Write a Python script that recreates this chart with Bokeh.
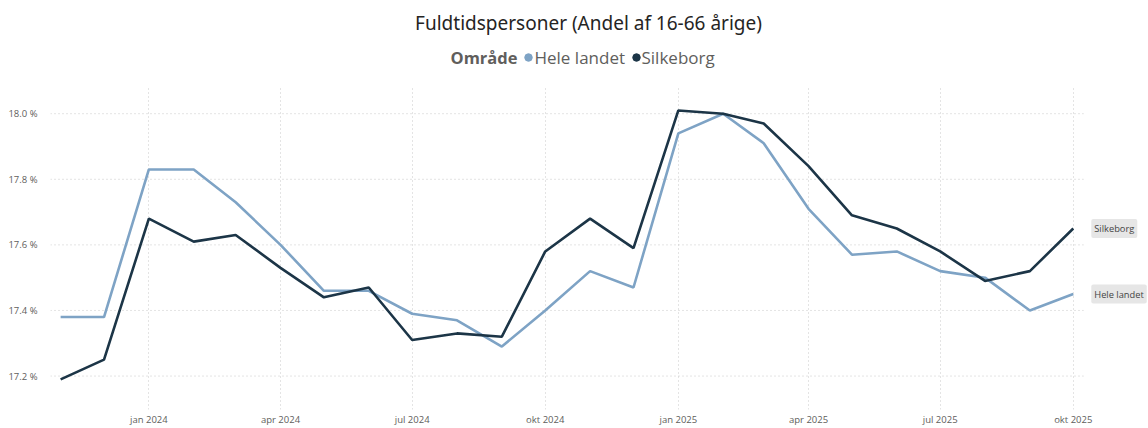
import pandas as pd
from bokeh.plotting import figure
from bokeh.layouts import column
from bokeh.models import (ColumnDataSource, Range1d, FixedTicker, CustomJSTickFormatter,
                          PrintfTickFormatter, Label)
from bokeh.core.properties import value
from bokeh.embed import file_html
from bokeh.resources import INLINE

# ---- data ----
months = pd.date_range("2023-11-01", periods=24, freq="MS")
hele_landet = [17.38, 17.38, 17.83, 17.83, 17.73, 17.60, 17.46, 17.46, 17.39, 17.37,
               17.29, 17.40, 17.52, 17.47, 17.94, 18.00, 17.91, 17.71, 17.57, 17.58,
               17.52, 17.50, 17.40, 17.45]
silkeborg = [17.19, 17.25, 17.68, 17.61, 17.63, 17.53, 17.44, 17.47, 17.31, 17.33,
             17.32, 17.58, 17.68, 17.59, 18.01, 18.00, 17.97, 17.84, 17.69, 17.65,
             17.58, 17.49, 17.52, 17.65]
tick_dates = ["2024-01-01", "2024-04-01", "2024-07-01", "2024-10-01",
              "2025-01-01", "2025-04-01", "2025-07-01", "2025-10-01"]
tick_labels = ["jan 2024", "apr 2024", "jul 2024", "okt 2024",
               "jan 2025", "apr 2025", "jul 2025", "okt 2025"]
y_ticks = [17.2, 17.4, 17.6, 17.8, 18.0]
series_names = ["Hele landet", "Silkeborg"]
subtitle = "Fuldtidspersoner (Andel af 16-66 årige)"
legend_title = "Område"

LIGHT = "#7ea3c5"
DARK = "#1c3547"
GRAY = "#605e5c"
FONT = "Open Sans"
W = 1148
H = 428
HEAD_H = 80
LEFT = 50

# ---- header (subtitle + legend), drawn in pixel-like coordinates ----
head = figure(width=W, height=HEAD_H, output_backend="svg", toolbar_location=None,
              x_range=Range1d(LEFT, W), y_range=Range1d(0, HEAD_H),
              x_axis_location=None, y_axis_location=None,
              min_border=0, min_border_left=LEFT, min_border_right=0,
              min_border_top=0, min_border_bottom=0, outline_line_color=None)
head.grid.visible = False
head.text(x=[588], y=[HEAD_H - 22], text=[subtitle], text_font=value("Noto Sans"),
          text_font_size="19px", text_color="#252423", text_align="center",
          text_baseline="middle")
leg_y = HEAD_H - 57
head.text(x=[450], y=[leg_y], text=[legend_title], text_font=value(FONT),
          text_font_style="bold", text_font_size="16.5px", text_color=GRAY,
          text_baseline="middle")
head.scatter(x=[528, 636], y=[leg_y, leg_y], size=7.5, color=[LIGHT, DARK])
head.text(x=[534, 641], y=[leg_y, leg_y], text=series_names, text_font=value(FONT),
          text_font_size="17px", text_color=GRAY, text_baseline="middle")

# ---- main chart ----
src = ColumnDataSource(dict(x=months, hl=hele_landet, sk=silkeborg))
x0 = months[0] - pd.Timedelta(days=7)
x_grid_end = months[-1] + pd.Timedelta(days=7)
x1 = months[-1] + pd.Timedelta(days=52)
p = figure(width=W, height=H - HEAD_H, output_backend="svg", toolbar_location=None,
           x_axis_type="datetime",
           x_range=Range1d(x0, x1),
           y_range=Range1d(17.098, 18.086),
           min_border_left=LEFT, min_border_right=0, min_border_bottom=0, min_border_top=5)
p.outline_line_color = None

tick_ms = [pd.Timestamp(d).value / 1e6 for d in tick_dates]
p.xaxis.ticker = FixedTicker(ticks=tick_ms)
p.xaxis.formatter = CustomJSTickFormatter(args=dict(tvals=tick_ms, tlabels=tick_labels), code="""
    let best = 0, bd = Infinity;
    for (let i = 0; i < tvals.length; i++) { const d = Math.abs(tvals[i] - tick); if (d < bd) { bd = d; best = i; } }
    return tlabels[best];
""")
p.yaxis.ticker = FixedTicker(ticks=y_ticks)
p.yaxis.formatter = PrintfTickFormatter(format="%.1f %%")

for ax in (p.xaxis[0], p.yaxis[0]):
    ax.axis_line_color = None
    ax.major_tick_line_color = None
    ax.minor_tick_line_color = None
    ax.major_label_text_font = FONT
    ax.major_label_text_font_size = "9.5px"
    ax.major_label_text_color = GRAY
p.xaxis.major_label_standoff = -3
p.yaxis.major_label_standoff = 7

GRID = "#c8c8c8"
p.xgrid.grid_line_color = GRID
p.xgrid.grid_line_dash = "1 3"
p.ygrid.grid_line_color = None
# horizontal grid lines stop just after the last month (as in the original)
p.segment(x0=[x0] * len(y_ticks), x1=[x_grid_end] * len(y_ticks), y0=y_ticks, y1=y_ticks,
          line_color=GRID, line_dash="1 3", line_width=1)

p.line("x", "hl", source=src, color=LIGHT, line_width=2.6)
p.line("x", "sk", source=src, color=DARK, line_width=2.6)

# end labels
for name, vals in zip(series_names, (hele_landet, silkeborg)):
    p.add_layout(Label(x=months[-1], y=vals[-1], text=name, x_offset=18,
                       text_baseline="middle", text_font=FONT, text_font_size="9.3px",
                       text_color="#444444", background_fill_color="#e6e6e6",
                       padding=3, border_radius=2))

layout = column(head, p, spacing=0)
open("out.html", "w").write(file_html(layout, INLINE))
